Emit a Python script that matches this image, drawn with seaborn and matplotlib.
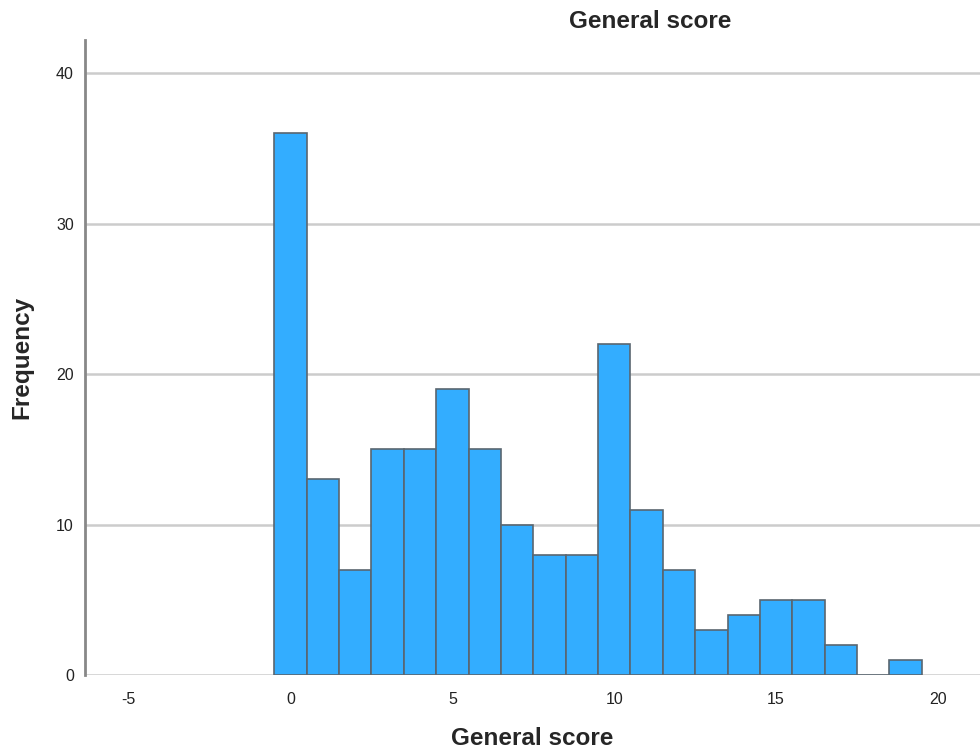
import matplotlib
matplotlib.use('Agg')
import matplotlib.pyplot as plt
import seaborn as sns
import pandas as pd

scores = [0, 1, 2, 3, 4, 5, 6, 7, 8, 9, 10, 11, 12, 13, 14, 15, 16, 17, 18, 19]
counts = [36, 13, 7, 15, 15, 19, 15, 10, 8, 8, 22, 11, 7, 3, 4, 5, 5, 2, 0, 1]
x_ticks = [-5, 0, 5, 10, 15, 20]
y_ticks = [0, 10, 20, 30, 40]

dados = pd.DataFrame({'General score': scores, 'Frequency': counts})

sns.set_style('white')
plt.rcParams['font.family'] = ['Liberation Sans', 'DejaVu Sans']
plt.rcParams['axes.unicode_minus'] = False

fig = plt.figure(figsize=(9.8, 7.51), dpi=100)
ax = fig.add_axes([0.0867, 0.101, 0.9133, 0.8457])

sns.histplot(data=dados, x='General score', weights='Frequency', discrete=True,
             color='#33adff', alpha=1, edgecolor='#5a6670', linewidth=1.2, ax=ax, zorder=3)

ax.set_xlim(-6.35, 21.3)
ax.set_ylim(0, 42.2)
ax.set_xticks(x_ticks)
ax.set_yticks(y_ticks)
ax.tick_params(axis='both', length=0, labelsize=11.5, colors='#222222')
ax.tick_params(axis='x', pad=12)
ax.tick_params(axis='y', pad=8)
ax.yaxis.grid(True, color='#cccccc', linewidth=1.8, zorder=0)
ax.set_axisbelow(True)

for s in ['top', 'right', 'bottom']:
    ax.spines[s].set_visible(False)
ax.spines['left'].set_color('#888888')
ax.spines['left'].set_linewidth(2)

ax.set_xlabel('General score', fontsize=17.5, fontweight='bold')
ax.set_ylabel('Frequency', fontsize=17.5, fontweight='bold')
ax.xaxis.set_label_coords(0.5, -0.099)
ax.yaxis.set_label_coords(-0.0704, 0.5)
for lbl in (ax.xaxis.label, ax.yaxis.label):
    lbl.set_verticalalignment('center')
fig.text(0.663, 0.971, 'General score', ha='center', va='center', fontsize=17.5, fontweight='bold')

plt.savefig('out.png', dpi=100)
plt.close()
